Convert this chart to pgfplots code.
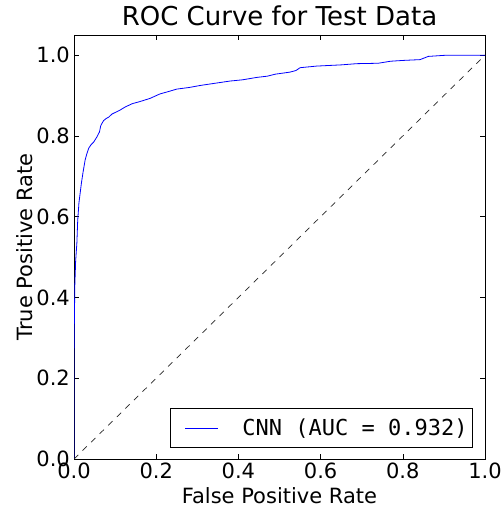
\documentclass[border=0pt]{standalone}
\usepackage{fontspec}
\setmainfont{DejaVu Sans}
\setmonofont{DejaVu Sans Mono}
\usepackage{pgfplots}
\pgfplotsset{compat=1.18}

\newcommand{\tickfont}{\fontsize{21bp}{25bp}\selectfont}
\newcommand{\titlefont}{\fontsize{26bp}{30bp}\selectfont}

\begin{document}
\begin{tikzpicture}
\begin{axis}[
  name=ax,
  scale only axis,
  width=411bp, height=424bp,
  xmin=0, xmax=1, ymin=0, ymax=1.05,
  xtick={0,0.2,...,1.0}, ytick={0,0.2,...,1.0},
  /pgf/number format/.cd, fixed, fixed zerofill, precision=1, assume math mode=true,
  /pgfplots/.cd,
  tick align=inside,
  major tick length=5bp,
  tick style={black, line width=0.6bp},
  axis line style={black, line width=0.9bp},
  ticklabel style={font=\tickfont, inner sep=0pt},
  xticklabel style={anchor=north, yshift=-4bp},
  yticklabel style={anchor=east, xshift=-4bp},
  title={ROC Curve for Test Data},
  title style={font=\titlefont, at={(axis description cs:0.5,1.0094)}, anchor=base, inner sep=0pt},
  xlabel={False Positive Rate},
  ylabel={True Positive Rate},
  label style={font=\tickfont, inner sep=0pt},
  xlabel style={at={(axis description cs:0.5,-0.106)}, anchor=base},
  ylabel style={at={(axis description cs:-0.0998,0.5)}, anchor=base},
  legend style={at={(1,0)}, anchor=south east, xshift=-12bp, yshift=11bp,
    draw=black, line width=0.8bp, inner sep=0pt,
    font=\ttfamily\fontsize{22bp}{26bp}\selectfont,
    nodes={inner sep=0pt}},
  legend image code/.code={
    \path[draw=none, fill=none] (0bp,-19.5bp) rectangle (72bp,19.5bp);
    \draw[draw=blue, line width=0.8bp] (15bp,0bp) -- (48bp,0bp);
  },
]
\addplot[blue, line width=0.8bp] coordinates {
(0,0) (0,0.25) (0.001,0.35) (0.002,0.43) (0.004,0.49) (0.007,0.535)
(0.009,0.59) (0.012,0.634) (0.018,0.683) (0.022,0.71) (0.027,0.74)
(0.031,0.755) (0.036,0.77) (0.042,0.779) (0.048,0.785) (0.056,0.798)
(0.062,0.81) (0.065,0.825) (0.068,0.831) (0.072,0.838) (0.078,0.843)
(0.085,0.847) (0.092,0.854) (0.10,0.858) (0.112,0.864) (0.125,0.872)
(0.142,0.880) (0.16,0.885) (0.185,0.893) (0.209,0.904) (0.23,0.910)
(0.25,0.916) (0.28,0.920) (0.307,0.925) (0.34,0.930) (0.38,0.936)
(0.41,0.939) (0.445,0.945) (0.47,0.948) (0.49,0.953) (0.525,0.958)
(0.54,0.962) (0.55,0.969) (0.59,0.973) (0.65,0.976) (0.688,0.979)
(0.74,0.980) (0.77,0.985) (0.80,0.987) (0.842,0.989) (0.862,0.997)
(0.907,1.0) (1.0,1.0)
};
\addlegendentry{CNN (AUC = 0.932)\hspace*{5bp}}
\addplot[black!85, line width=0.7bp, dash pattern=on 6bp off 6bp, forget plot] coordinates {(0,0) (1,1)};
\end{axis}
\pgfresetboundingbox
\path ([shift={(-74bp,-49bp)}]ax.south west) rectangle ([shift={(16bp,35bp)}]ax.north east);
\end{tikzpicture}
\end{document}
